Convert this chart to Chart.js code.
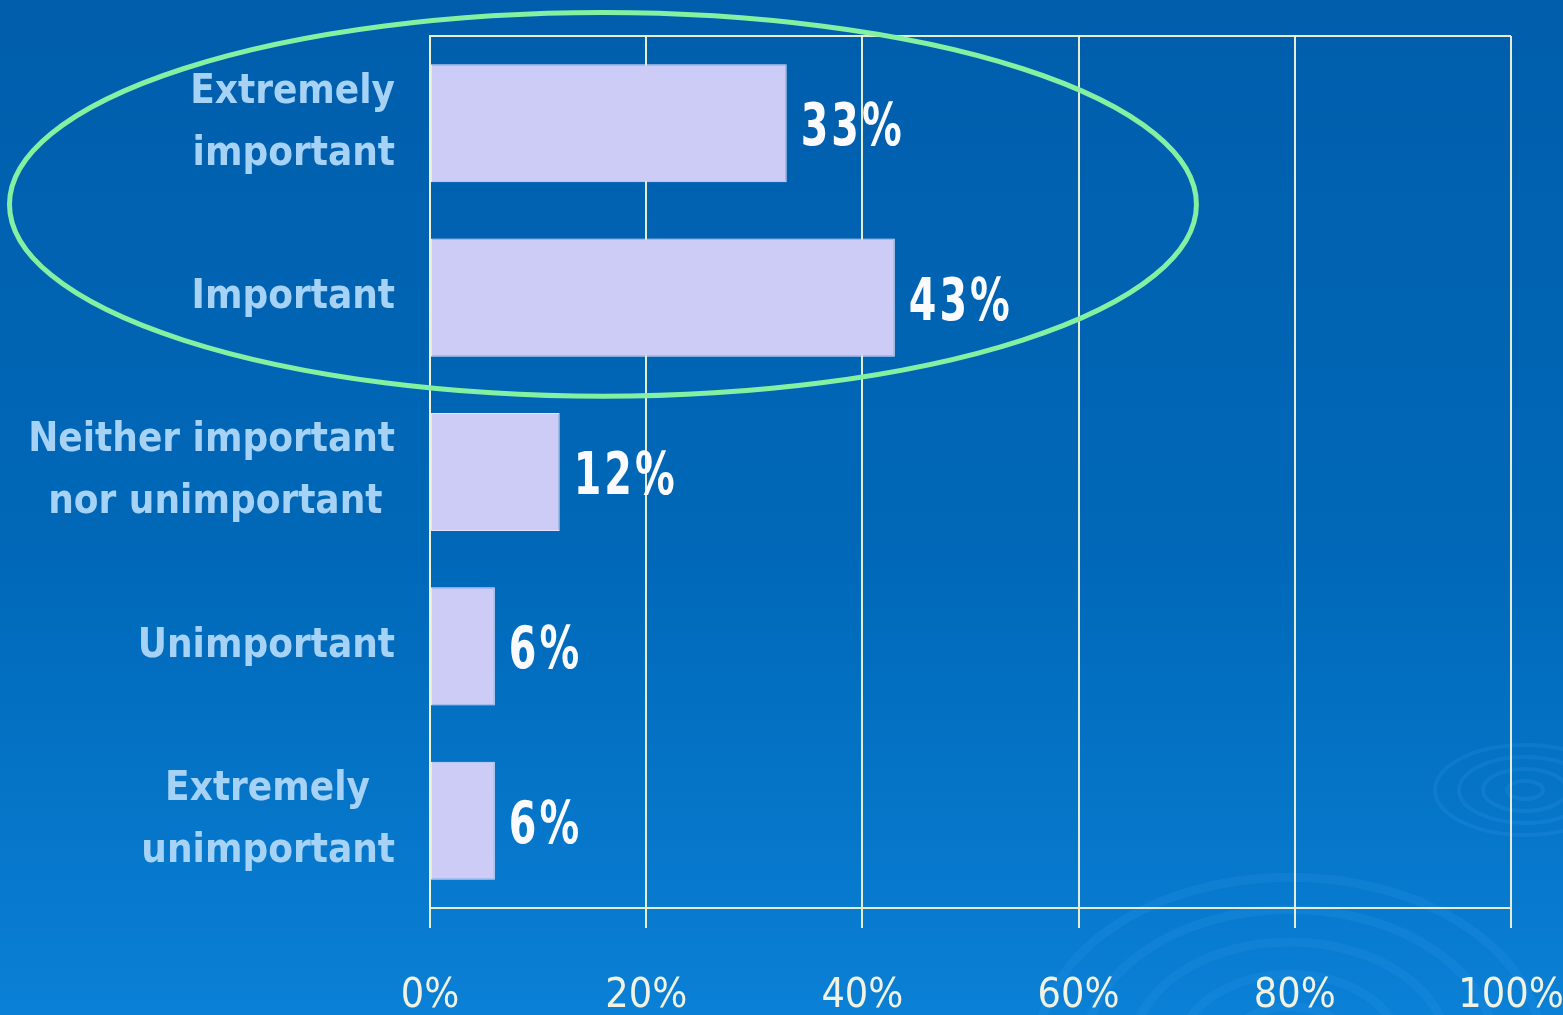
<!DOCTYPE html>
<html>
<head>
<meta charset="utf-8">
<script src="https://cdn.jsdelivr.net/npm/chart.js@4.4.1/dist/chart.umd.min.js"></script>
<style>
  html, body { margin: 0; padding: 0; background: #0064b4; }
  #wrap { width: 1563px; height: 1015px; position: relative; }
</style>
</head>
<body>
<div id="wrap"><canvas id="c" width="1563" height="1015"></canvas></div>
<script>
// ---- data ----
const categories = [
  ['Extremely', 'important'],
  ['Important'],
  ['Neither important', 'nor unimportant\u00a0'],
  ['Unimportant'],
  ['Extremely\u00a0\u00a0', 'unimportant']
];
const values = [33, 43, 12, 6, 6];
const xTicks = [0, 20, 40, 60, 80, 100];
const highlightRange = [0, 1]; // categories circled by the ellipse

const gridColor = 'rgba(240,243,212,0.95)';

const backgroundPlugin = {
  id: 'bg',
  beforeDraw(chart) {
    const ctx = chart.ctx;
    const w = chart.width, h = chart.height;
    ctx.save();
    const g = ctx.createLinearGradient(0, 0, 0, h);
    g.addColorStop(0, '#005eac');
    g.addColorStop(0.55, '#0068b8');
    g.addColorStop(1, '#0a80d6');
    ctx.fillStyle = g;
    ctx.fillRect(0, 0, w, h);
    // faint ripples
    ctx.strokeStyle = 'rgba(70,170,250,0.12)';
    ctx.lineWidth = 9;
    for (let r = 60; r <= 260; r += 45) {
      ctx.beginPath();
      ctx.ellipse(1290, 1050, r * 1.05, r * 0.72, 0, Math.PI, 2 * Math.PI);
      ctx.stroke();
    }
    ctx.lineWidth = 4;
    ctx.strokeStyle = 'rgba(70,160,240,0.16)';
    for (let r = 15; r <= 75; r += 20) {
      ctx.beginPath();
      ctx.ellipse(1525, 790, r * 1.2, r * 0.6, 0, 0, 2 * Math.PI);
      ctx.stroke();
    }
    ctx.restore();
  }
};

const overlayPlugin = {
  id: 'overlay',
  afterDatasetsDraw(chart) {
    const ctx = chart.ctx;
    const meta = chart.getDatasetMeta(0);
    meta.data.forEach((bar, i) => {
      ctx.save();
      ctx.fillStyle = '#fafaff';
      ctx.font = 'bold 58px "DejaVu Sans Condensed", "DejaVu Sans", sans-serif';
      ctx.textAlign = 'left';
      ctx.textBaseline = 'middle';
      if ('letterSpacing' in ctx) ctx.letterSpacing = '4px';
      ctx.translate(bar.x + 14, bar.y + 7);
      ctx.scale(0.76, 1);
      ctx.fillText(values[i] + '%', 0, 0);
      ctx.restore();
    });
  },
  afterDraw(chart) {
    const ctx = chart.ctx;
    const xs = chart.scales.x, ys = chart.scales.y;
    const y0 = ys.getPixelForValue(highlightRange[0]);
    const y1 = ys.getPixelForValue(highlightRange[1]);
    const cx = xs.getPixelForValue(16);
    const cy = (y0 + y1) / 2 - 6;
    const rx = xs.getPixelForValue(70.9) - cx;
    const ry = (y1 - y0) * 1.1;
    ctx.save();
    ctx.strokeStyle = '#84f0a2';
    ctx.lineWidth = 5;
    ctx.beginPath();
    ctx.ellipse(cx, cy, rx, ry, 0, 0, 2 * Math.PI);
    ctx.stroke();
    ctx.restore();
  }
};

new Chart(document.getElementById('c'), {
  type: 'bar',
  data: {
    labels: categories,
    datasets: [{
      data: values,
      backgroundColor: '#ccccf6',
      borderColor: '#e4e4ff',
      borderWidth: 1,
      borderSkipped: false,
      categoryPercentage: 1,
      barPercentage: 0.677
    }]
  },
  options: {
    indexAxis: 'y',
    responsive: false,
    animation: false,
    devicePixelRatio: 1,
    layout: { padding: { top: 36, right: 52, left: 0, bottom: 0 } },
    plugins: {
      legend: { display: false },
      tooltip: { enabled: false }
    },
    scales: {
      x: {
        type: 'linear',
        min: 0,
        max: 100,
        afterBuildTicks(scale) { scale.ticks = xTicks.map(v => ({ value: v })); },
        afterFit(scale) {
          scale.height = 107;
          scale.paddingLeft = 0; scale.paddingRight = 0;
        },
        ticks: {
          color: '#f2f2e2',
          padding: 44,
          maxRotation: 0,
          font: { family: '"DejaVu Sans Condensed", "DejaVu Sans", sans-serif', size: 41 },
          callback: v => v + '%'
        },
        grid: { color: gridColor, lineWidth: 2, tickLength: 20, drawTicks: true },
        border: { color: gridColor, width: 2 }
      },
      y: {
        type: 'category',
        afterFit(scale) {
          scale.width = 430;
          scale.paddingTop = 0; scale.paddingBottom = 0;
        },
        ticks: {
          color: '#a6d2f6',
          padding: 35,
          font: { family: '"DejaVu Sans Condensed", "DejaVu Sans", sans-serif', size: 40, weight: 'bold', lineHeight: 1.55 }
        },
        grid: {
          drawTicks: false,
          lineWidth: 2,
          color: ctx => (ctx.index === 0 || ctx.index === categories.length) ? gridColor : 'rgba(0,0,0,0)'
        },
        border: { color: gridColor, width: 2 }
      }
    }
  },
  plugins: [backgroundPlugin, overlayPlugin]
});
</script>
</body>
</html>
